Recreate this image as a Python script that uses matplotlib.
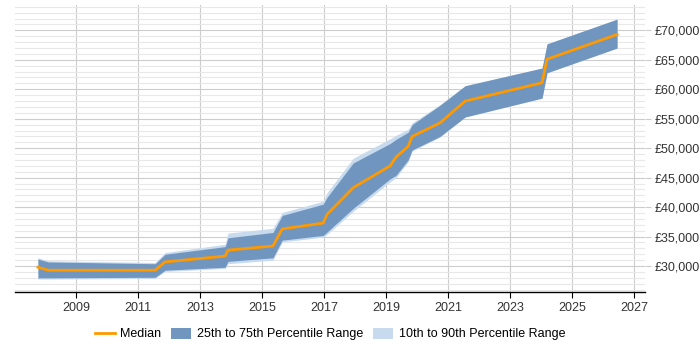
import matplotlib
matplotlib.use("Agg")
import matplotlib.pyplot as plt
from matplotlib.lines import Line2D
from matplotlib.patches import Patch
from matplotlib.ticker import MultipleLocator, FuncFormatter

plt.rcParams['font.family'] = ['Liberation Sans', 'DejaVu Sans']

years = [2007.77, 2008.1, 2011.55, 2011.87, 2013.81, 2013.90, 2015.35, 2015.65,
         2016.97, 2017.10, 2017.94, 2019.13, 2019.32, 2019.71, 2019.84, 2020.74,
         2021.55, 2024.03, 2024.19, 2026.45]
median = [29800, 29300, 29300, 30700, 31700, 32700, 33400, 36300,
          37300, 38800, 43300, 47000, 48500, 50300, 52000, 54300,
          58000, 61100, 65100, 69300]
p25 = [28000, 28000, 28100, 29300, 29800, 30800, 31400, 34400,
       35200, 35800, 39800, 44800, 45400, 48000, 49700, 52000,
       55300, 58500, 62800, 67000]
p75 = [31200, 30700, 30400, 32000, 33300, 34800, 35700, 38600,
       40500, 41700, 47500, 50800, 51500, 52700, 54000, 57300,
       60600, 63600, 67700, 71900]
p10 = [27800, 27800, 27900, 29100, 29600, 30400, 31000, 34100,
       34900, 35400, 39300, 44300, 45000, 47700, 49500, 51900,
       55300, 58500, 62800, 67000]
p90 = [31400, 30900, 30600, 32300, 33700, 35600, 36400, 39100,
       41000, 42500, 48300, 51600, 52200, 53200, 54300, 57400,
       60600, 63600, 67700, 71900]

x_ticks = [2009, 2011, 2013, 2015, 2017, 2019, 2021, 2023, 2025, 2027]
y_ticks = [30000, 35000, 40000, 45000, 50000, 55000, 60000, 65000, 70000]

fig = plt.figure(figsize=(7, 3.5), dpi=100)
ax = fig.add_axes([15/700, 1-292/350, 630/700, 287/350])

ax.fill_between(years, p10, p90, color='#c8daed', linewidth=0, zorder=2)
ax.fill_between(years, p25, p75, color='#7096c0', linewidth=0, zorder=3)
ax.plot(years, median, color='#ff9900', linewidth=2, zorder=4)

ax.set_xlim(2007.03, 2027.35)
ax.set_ylim(25600, 74300)
ax.set_xticks(x_ticks)
ax.set_yticks(y_ticks)
ax.yaxis.set_minor_locator(MultipleLocator(1000))
ax.yaxis.tick_right()
ax.yaxis.set_major_formatter(FuncFormatter(lambda v, p: '£{:,.0f}'.format(v)))

ax.grid(which='major', axis='both', color='#cccccc', linewidth=0.8, zorder=0)
ax.grid(which='minor', axis='y', color='#e8e8e8', linewidth=0.8, zorder=0)
ax.set_axisbelow(True)

for s in ['top', 'left', 'right']:
    ax.spines[s].set_visible(False)
ax.spines['bottom'].set_color('#000000')
ax.spines['bottom'].set_linewidth(1)

ax.tick_params(axis='x', length=4, color='#000000', labelsize=9, labelcolor='#333333', pad=3)
ax.tick_params(axis='y', which='major', length=4, color='#cccccc', labelsize=9, labelcolor='#333333', pad=3)
ax.tick_params(axis='y', which='minor', length=0)

handles = [Line2D([0], [0], color='#ff9900', linewidth=2),
           Patch(facecolor='#7096c0', edgecolor='none'),
           Patch(facecolor='#c8daed', edgecolor='none')]
labels = ['Median', '25th to 75th Percentile Range', '10th to 90th Percentile Range']
fig.legend(handles, labels, loc='center', bbox_to_anchor=(330/700, 1-334/350),
           ncol=3, frameon=False, fontsize=9, handlelength=1.6, handleheight=1.0,
           columnspacing=0.8, handletextpad=0.45, borderpad=0, borderaxespad=0)

fig.savefig('out.png', dpi=100)
